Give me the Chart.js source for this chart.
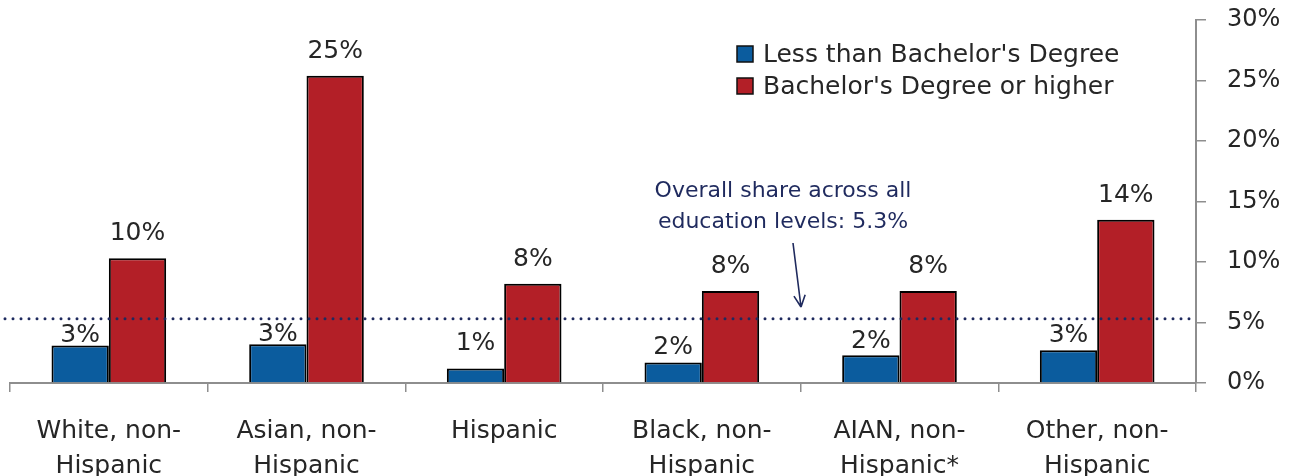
<!DOCTYPE html>
<html>
<head>
<meta charset="utf-8">
<script src="https://cdn.jsdelivr.net/npm/chart.js@4.4.1/dist/chart.umd.min.js"></script>
<style>
  html, body { margin: 0; padding: 0; background: #fff; }
  #wrap { width: 1292px; height: 476px; position: relative; }
</style>
</head>
<body>
<div id="wrap"><canvas id="chart"></canvas></div>
<script>
const categories = [
  ['White, non-', 'Hispanic'],
  ['Asian, non-', 'Hispanic'],
  'Hispanic',
  ['Black, non-', 'Hispanic'],
  ['AIAN, non-', 'Hispanic*'],
  ['Other, non-', 'Hispanic']
];
const seriesNames = ["Less than Bachelor's Degree", "Bachelor's Degree or higher"];
const lessThanBachelors = [3.1, 3.2, 1.2, 1.7, 2.3, 2.7];
const bachelorsOrHigher = [10.3, 25.4, 8.2, 7.6, 7.6, 13.5];
const overallShare = 5.3;
const yTickValues = [0, 5, 10, 15, 20, 25, 30];
const annotationLines = ['Overall share across all', 'education levels: 5.3%'];

const BLUE = '#0B5C9E';
const RED = '#B31F27';
const NAVY = '#1F2A5E';
const TEXT = '#262626';
const AXIS = '#8E8E8E';
const FONT = '"DejaVu Sans", sans-serif';

// label gap above each bar (px), blue labels were nudged by hand in the original
const blueLabelGap = [3, 3, 18, 8, 7, 8];
const redLabelGap = 18;

const overlayPlugin = {
  id: 'overlay',
  afterDatasetsDraw(chart) {
    const ctx = chart.ctx;
    const area = chart.chartArea;
    const yScale = chart.scales.y;

    // dotted reference line
    const ly = yScale.getPixelForValue(overallShare);
    ctx.save();
    ctx.strokeStyle = NAVY;
    ctx.lineWidth = 3;
    ctx.lineCap = 'round';
    ctx.setLineDash([0, 8]);
    ctx.beginPath();
    ctx.moveTo(5, ly);
    ctx.lineTo(area.right - 6, ly);
    ctx.stroke();
    ctx.restore();

    // value labels
    ctx.save();
    ctx.font = '25px ' + FONT;
    ctx.fillStyle = TEXT;
    ctx.textAlign = 'center';
    ctx.textBaseline = 'alphabetic';
    chart.data.datasets.forEach((ds, di) => {
      const meta = chart.getDatasetMeta(di);
      meta.data.forEach((bar, i) => {
        const gap = di === 0 ? blueLabelGap[i] : redLabelGap;
        ctx.fillText(Math.round(ds.data[i]) + '%', bar.x, bar.y - gap);
      });
    });
    ctx.restore();

    // annotation text + arrow
    ctx.save();
    ctx.font = '22px ' + FONT;
    ctx.fillStyle = NAVY;
    ctx.textAlign = 'center';
    ctx.textBaseline = 'alphabetic';
    ctx.fillText(annotationLines[0], 783, 197);
    ctx.fillText(annotationLines[1], 783, 228);
    ctx.strokeStyle = NAVY;
    ctx.lineWidth = 1.6;
    const x0 = 793, y0 = 243, x1 = 801, y1 = 307;
    ctx.beginPath();
    ctx.moveTo(x0, y0);
    ctx.lineTo(x1, y1);
    const ang = Math.atan2(y1 - y0, x1 - x0);
    const head = 13;
    ctx.moveTo(x1, y1);
    ctx.lineTo(x1 - head * Math.cos(ang - 0.45), y1 - head * Math.sin(ang - 0.45));
    ctx.moveTo(x1, y1);
    ctx.lineTo(x1 - head * Math.cos(ang + 0.45), y1 - head * Math.sin(ang + 0.45));
    ctx.stroke();
    ctx.restore();

    // legend
    ctx.save();
    ctx.font = '25px ' + FONT;
    ctx.textAlign = 'left';
    ctx.textBaseline = 'middle';
    const colors = [BLUE, RED];
    const rowsY = [54, 86];
    seriesNames.forEach((name, i) => {
      ctx.fillStyle = colors[i];
      ctx.fillRect(737, rowsY[i] - 8, 16, 16);
      ctx.strokeStyle = '#111';
      ctx.lineWidth = 1.5;
      ctx.strokeRect(737, rowsY[i] - 8, 16, 16);
      ctx.fillStyle = TEXT;
      ctx.fillText(name, 763, rowsY[i] + 1);
    });
    ctx.restore();
  }
};

new Chart(document.getElementById('chart'), {
  type: 'bar',
  data: {
    labels: categories,
    datasets: [
      {
        label: seriesNames[0],
        data: lessThanBachelors,
        backgroundColor: BLUE,
        borderColor: '#000',
        borderWidth: 2,
        categoryPercentage: 0.58,
        barPercentage: 1.0
      },
      {
        label: seriesNames[1],
        data: bachelorsOrHigher,
        backgroundColor: RED,
        borderColor: '#000',
        borderWidth: 2,
        categoryPercentage: 0.58,
        barPercentage: 1.0
      }
    ]
  },
  options: {
    responsive: true,
    maintainAspectRatio: false,
    animation: false,
    layout: {
      padding: { top: 20, left: 10, right: 0, bottom: 0 }
    },
    plugins: {
      legend: { display: false },
      tooltip: { enabled: false }
    },
    scales: {
      x: {
        grid: {
          offset: true,
          drawOnChartArea: false,
          drawTicks: true,
          tickLength: 9,
          color: AXIS,
          lineWidth: 1.5
        },
        border: { color: AXIS, width: 2 },
        ticks: {
          color: TEXT,
          padding: 22,
          maxRotation: 0,
          autoSkip: false,
          font: { family: FONT, size: 25, lineHeight: 1.4 }
        },
        afterFit(scale) {
          scale.height = 93;
          scale.paddingLeft = 0;
          scale.paddingRight = 0;
        }
      },
      y: {
        position: 'right',
        min: 0,
        max: 30,
        afterBuildTicks(scale) {
          scale.ticks = yTickValues.map(v => ({ value: v }));
        },
        grid: {
          drawOnChartArea: false,
          tickLength: 10,
          color: AXIS,
          lineWidth: 1.5
        },
        border: { color: AXIS, width: 2 },
        ticks: {
          color: TEXT,
          padding: 21,
          font: { family: FONT, size: 24 },
          callback: v => v + '%'
        },
        afterFit(scale) {
          scale.width = 96;
          scale.paddingTop = 0;
          scale.paddingBottom = 0;
        }
      }
    }
  },
  plugins: [overlayPlugin]
});
</script>
</body>
</html>
